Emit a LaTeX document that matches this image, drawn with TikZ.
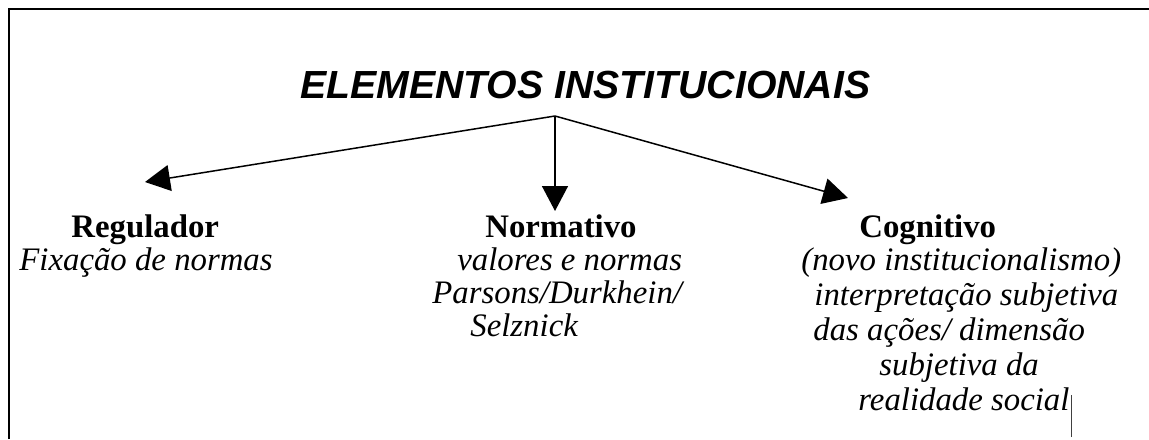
\documentclass[tikz,border=0pt]{standalone}
\usepackage{fontspec}
\setmainfont{Liberation Serif}
\newfontfamily\titlefont{Liberation Sans}
\usetikzlibrary{arrows.meta}

\tikzset{
  txt/.style={anchor=base west, inner sep=0pt, font=\fontsize{16.4}{16.5}\selectfont\itshape},
  hd/.style={anchor=base west, inner sep=0pt, font=\fontsize{16.4}{16.5}\selectfont\bfseries},
  seta/.style={line width=0.75pt, -{Triangle[length=12.5pt,width=13pt]}}
}

\begin{document}
\begin{tikzpicture}[x=0.5pt,y=-0.5pt]
                \useasboundingbox (0,0) rectangle (1149,439);
                \draw[line width=1.25pt] (9,439) -- (9,9) -- (1149,9);
                \node[anchor=base west, inner sep=0pt, font=\titlefont\fontsize{19.6}{20}\selectfont\bfseries\itshape] (titulo) at (300,98) {ELEMENTOS INSTITUCIONAIS};
                \coordinate (topo) at (555,116);
                \coordinate (pReg) at (145,182);
                \coordinate (pNor) at (555,211);
                \coordinate (pCog) at (848,198);
                \draw[seta] (topo) -- (pReg);
                \draw[seta] (topo) -- (pNor);
                \draw[seta] (topo) -- (pCog);
                \node[hd] (reg) at (71,237) {Regulador};
                \node[txt] (reg1) at (19,270) {Fixação de normas};
                \node[hd] (nor) at (485,237) {Normativo};
                \node[txt] (nor1) at (457,270) {valores e normas};
                \node[txt] (nor2) at (432,303) {Parsons/Durkhein/};
                \node[txt] (nor3) at (470,336) {Selznick};
                \node[hd] (cog) at (859,237) {Cognitivo};
                \node[txt] (cog1) at (801,270) {(novo institucionalismo)};
                \node[txt] (cog2) at (814,305) {interpretação subjetiva};
                \node[txt] (cog3) at (813,340) {das ações/ dimensão};
                \node[txt] (cog4) at (879,375) {subjetiva da};
                \node[txt] (soc) at (858,410) {realidade social};
                \draw[line width=0.5pt, black!75] (soc.base east) ++(2,27) -- ++(0,-42);
            \end{tikzpicture}
\end{document}
